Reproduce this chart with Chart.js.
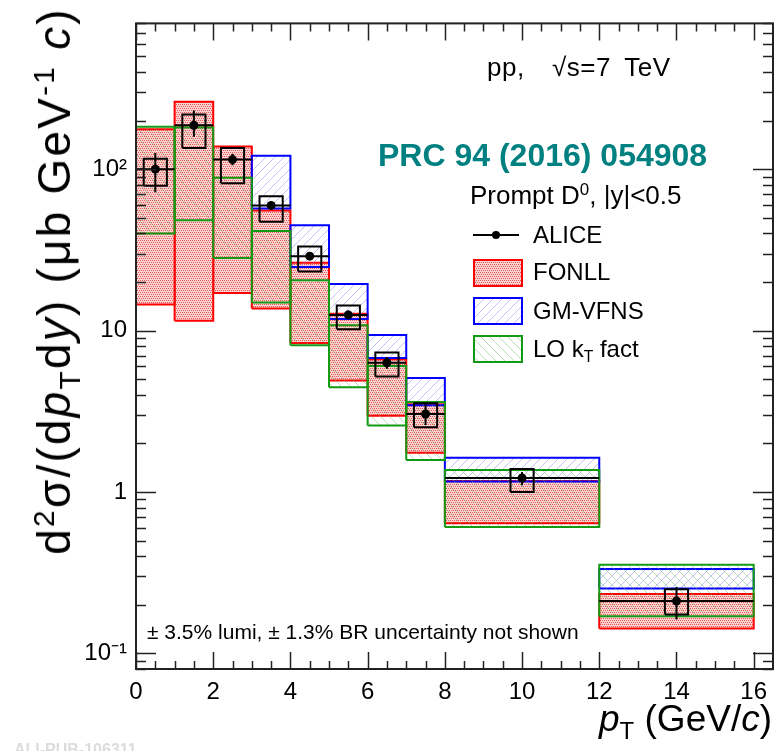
<!DOCTYPE html>
<html>
<head>
<meta charset="utf-8">
<script src="https://cdn.jsdelivr.net/npm/chart.js@4.4.1/dist/chart.umd.min.js"></script>
<style>
  body { margin: 0; background: #fff; }
  #wrap { position: relative; width: 781px; height: 751px; overflow: hidden; font-family: "Liberation Sans", Arial, sans-serif; color: #000; }
  #wrap canvas { position: absolute; left: 0; top: 0; }
  .t { position: absolute; white-space: nowrap; }
  .t sup, .t sub { font-size: 65%; line-height: 0; position: relative; vertical-align: baseline; }
  .t sup { top: -0.55em; }
  .t sub { top: 0.35em; }
</style>
</head>
<body>
<div id="wrap">
  <canvas id="chart" width="781" height="751"></canvas>
  <div class="t" style="left:487px; top:67px; font-size:26px; line-height:26px; transform:translateY(-50%); word-spacing:6px; letter-spacing:0.5px;">pp, &nbsp;√s=7 TeV</div>
  <div class="t" style="left:378px; top:155px; font-size:32px; line-height:32px; transform:translateY(-50%); font-weight:bold; color:#008080;">PRC 94 (2016) 054908</div>
  <div class="t" style="left:470px; top:195px; font-size:26px; line-height:26px; transform:translateY(-50%);">Prompt D<sup>0</sup>, |y|&lt;0.5</div>
  <div class="t" style="left:533px; top:235px; font-size:24px; line-height:24px; transform:translateY(-50%);">ALICE</div>
  <div class="t" style="left:533px; top:272px; font-size:24px; line-height:24px; transform:translateY(-50%);">FONLL</div>
  <div class="t" style="left:533px; top:311px; font-size:24px; line-height:24px; transform:translateY(-50%);">GM-VFNS</div>
  <div class="t" style="left:533px; top:349px; font-size:24px; line-height:24px; transform:translateY(-50%);">LO k<sub>T</sub> fact</div>
  <div class="t" style="left:147px; top:631px; font-size:21px; line-height:21px; transform:translateY(-50%);">± 3.5% lumi, ± 1.3% BR uncertainty not shown</div>
  <div class="t" style="right:9px; top:718px; font-size:37px; line-height:37px; transform:translateY(-50%);"><i>p</i><sub>T</sub> (GeV/<i>c</i>)</div>
  <div class="t" style="left:54px; top:281px; font-size:46px; line-height:46px; transform:translate(-50%,-50%) rotate(-90deg); letter-spacing:2.2px;">d<sup>2</sup>σ/(d<i>p</i><sub>T</sub>d<i>y</i>) (μb GeV<sup>-1</sup> <i>c</i>)</div>
  <div class="t" style="left:14px; top:742px; font-size:16px; line-height:16px; font-weight:bold; color:#dcdcdc;">ALI-PUB-106311</div>
</div>
<script>
// pT bins (GeV/c)
const binLo = [0, 1, 2, 3, 4, 5, 6, 7, 8, 12];
const binHi = [1, 2, 3, 4, 5, 6, 7, 8, 12, 16];

// ALICE prompt D0 cross section (ub GeV^-1 c)
const aliceY        = [100, 187, 114.6, 59.6, 28.9, 12.5, 6.32, 3.04, 1.22, 0.211];
const aliceStatLow  = [72, 159, 105.8, 56.5, 27.5, 11.8, 5.8, 2.6, 1.10, 0.162];
const aliceStatHigh = [126, 231, 124.6, 63, 30.5, 13.3, 6.85, 3.5, 1.33, 0.258];
const aliceSystLow  = [78.8, 135, 81.8, 47.2, 23.2, 10.2, 5.2, 2.52, 1.0, 0.174];
const aliceSystHigh = [116.2, 218, 135, 67.9, 33.2, 14.3, 7.3, 3.55, 1.39, 0.2495];

// model uncertainty bands
const fonllLow   = [14.5, 11.5, 17.1, 13.7, 8.37, 4.9, 2.97, 1.75, 0.641, 0.1426];
const fonllHigh  = [177, 262, 138, 55.4, 26.3, 12.7, 6.63, 3.5, 1.17, 0.233];
const gmvfnsLow  = [null, null, null, 57, 24.8, 11.8, 6.75, 3.44, 1.16, 0.252];
const gmvfnsHigh = [null, null, null, 121, 45, 19.4, 9.4, 5.08, 1.63, 0.333];
const lokTLow    = [40, 48.3, 28.2, 14.9, 8.1, 4.45, 2.58, 1.58, 0.607, 0.1695];
const lokTHigh   = [183, 181, 88.6, 41.4, 20.5, 10.8, 6.04, 3.61, 1.37, 0.354];

// axes
const xTickValues = [0, 2, 4, 6, 8, 10, 12, 14, 16];
const xTickLabels = ['0', '2', '4', '6', '8', '10', '12', '14', '16'];
const yTickValues = [0.1, 1, 10, 100];
const yTickLabels = ['10⁻¹', '1', '10', '10²'];

const systHalfWidth = 0.3;
const RED = '#ff0000', BLUE = '#0000ff', GREEN = '#129a12';

function makeDots() {
  const c = document.createElement('canvas');
  c.width = 4; c.height = 4;
  const g = c.getContext('2d');
  g.fillStyle = '#f9d2d2';
  g.fillRect(0, 0, 4, 4);
  g.fillStyle = '#ec5555';
  [[0, 0], [2, 0], [1, 2], [3, 2]].forEach(p => g.fillRect(p[0], p[1], 1, 1));
  return g.createPattern(c, 'repeat');
}
function makeHatch(color, forward) {
  const c = document.createElement('canvas');
  const n = 9;
  c.width = n; c.height = n;
  const g = c.getContext('2d');
  g.strokeStyle = color;
  g.lineWidth = 1;
  g.beginPath();
  if (forward) {
    g.moveTo(-1, n + 1); g.lineTo(n + 1, -1);
    g.moveTo(-1, 1); g.lineTo(1, -1);
    g.moveTo(n - 1, n + 1); g.lineTo(n + 1, n - 1);
  } else {
    g.moveTo(-1, -1); g.lineTo(n + 1, n + 1);
    g.moveTo(n - 1, -1); g.lineTo(n + 1, 1);
    g.moveTo(-1, n - 1); g.lineTo(1, n + 1);
  }
  g.stroke();
  return g.createPattern(c, 'repeat');
}

const fonllFill = makeDots();
const gmFill = makeHatch('rgba(120,120,235,0.45)', true);
const loFill = makeHatch('rgba(100,185,100,0.45)', false);

function box(x0, x1, lo, hi) {
  return [{x: x0, y: lo}, {x: x0, y: hi}, {x: x1, y: hi}, {x: x1, y: lo}, {x: x0, y: lo}];
}

const datasets = [];

// ALICE markers and error bars (drawn on top)
datasets.push({
  type: 'scatter', order: 0,
  data: aliceY.map((v, i) => ({x: (binLo[i] + binHi[i]) / 2, y: v})),
  backgroundColor: '#000', borderWidth: 0, pointRadius: 4.5
});
const hBars = [], vBars = [], systBoxes = [];
aliceY.forEach((v, i) => {
  const xc = (binLo[i] + binHi[i]) / 2;
  hBars.push({x: binLo[i], y: v}, {x: binHi[i], y: v}, {x: binHi[i], y: null});
  vBars.push({x: xc, y: aliceStatLow[i]}, {x: xc, y: aliceStatHigh[i]}, {x: xc, y: null});
  systBoxes.push(...box(xc - systHalfWidth, xc + systHalfWidth, aliceSystLow[i], aliceSystHigh[i]), {x: xc, y: null});
});
[hBars, vBars, systBoxes].forEach(d => datasets.push({
  type: 'line', order: 1, data: d, borderColor: '#000', borderWidth: 2,
  pointRadius: 0, fill: false, spanGaps: false, tension: 0
}));

// model bands
function addModel(lows, highs, color, fill, order) {
  lows.forEach((lo, i) => {
    if (lo === null) return;
    datasets.push({
      type: 'line', order: order,
      data: box(binLo[i], binHi[i], lo, highs[i]),
      borderColor: color, borderWidth: 2, backgroundColor: fill,
      fill: 'shape', pointRadius: 0, tension: 0
    });
  });
}
addModel(lokTLow, lokTHigh, GREEN, loFill, 2);
addModel(gmvfnsLow, gmvfnsHigh, BLUE, gmFill, 3);
addModel(fonllLow, fonllHigh, RED, fonllFill, 4);

// frame, inward ticks on all four sides, legend symbols
const framePlugin = {
  id: 'frame',
  afterDraw(chart) {
    const ctx = chart.ctx;
    const a = chart.chartArea;
    const xs = chart.scales.x, ys = chart.scales.y;
    ctx.save();
    ctx.strokeStyle = '#222';
    ctx.lineWidth = 1.5;
    ctx.beginPath();
    xs.ticks.forEach(t => {
      const px = Math.round(xs.getPixelForValue(t.value)) + 0.5;
      const len = t.value % 2 === 0 ? 17 : 8;
      ctx.moveTo(px, a.bottom); ctx.lineTo(px, a.bottom - len);
      ctx.moveTo(px, a.top); ctx.lineTo(px, a.top + len);
    });
    ys.ticks.forEach(t => {
      const py = Math.round(ys.getPixelForValue(t.value)) + 0.5;
      const major = Math.abs(Math.log10(t.value) - Math.round(Math.log10(t.value))) < 1e-6;
      const len = major ? 20 : 10;
      ctx.moveTo(a.left, py); ctx.lineTo(a.left + len, py);
      ctx.moveTo(a.right, py); ctx.lineTo(a.right - len, py);
    });
    ctx.stroke();
    ctx.lineWidth = 2;
    ctx.strokeRect(a.left, a.top, a.right - a.left, a.bottom - a.top);

    // legend symbols
    ctx.strokeStyle = '#000';
    ctx.beginPath();
    ctx.moveTo(473, 235); ctx.lineTo(519, 235);
    ctx.stroke();
    ctx.fillStyle = '#000';
    ctx.beginPath();
    ctx.arc(496, 235, 4, 0, Math.PI * 2);
    ctx.fill();
    [[260, fonllFill, RED], [298, gmFill, BLUE], [336, loFill, GREEN]].forEach(e => {
      ctx.fillStyle = e[1];
      ctx.fillRect(474, e[0], 48, 26);
      ctx.strokeStyle = e[2];
      ctx.strokeRect(474, e[0], 48, 26);
    });
    ctx.restore();
  }
};

Chart.defaults.font.family = '"Liberation Sans", Arial, sans-serif';
Chart.defaults.color = '#000';

new Chart(document.getElementById('chart'), {
  type: 'line',
  data: { datasets: datasets },
  options: {
    responsive: false,
    devicePixelRatio: 1,
    animation: false,
    layout: { padding: { top: 11, right: 8, left: 0, bottom: 0 } },
    plugins: { legend: { display: false }, tooltip: { enabled: false } },
    events: [],
    scales: {
      x: {
        type: 'linear', min: 0, max: 16.5,
        grid: { display: false, drawTicks: false },
        border: { display: false },
        afterBuildTicks(scale) {
          const t = [];
          for (let v = 0; v <= 16; v += 0.5) t.push({value: v});
          scale.ticks = t;
        },
        afterFit(scale) { scale.height = 82; },
        ticks: {
          autoSkip: false, maxRotation: 0, padding: 9,
          font: { size: 24 },
          callback: v => {
            const k = xTickValues.indexOf(v);
            return k >= 0 ? xTickLabels[k] : '';
          }
        }
      },
      y: {
        type: 'logarithmic', min: 0.08, max: 800,
        grid: { display: false, drawTicks: false },
        border: { display: false },
        afterBuildTicks(scale) {
          const t = [];
          for (let e = -2; e <= 2; e++) {
            for (let m = 1; m <= 9; m++) {
              const v = m * Math.pow(10, e);
              if (v >= 0.08 && v <= 800) t.push({value: v});
            }
          }
          scale.ticks = t;
        },
        afterFit(scale) { scale.width = 136; },
        ticks: {
          autoSkip: false, padding: 9,
          font: { size: 24 },
          callback: v => {
            const k = yTickValues.findIndex(tv => Math.abs(tv - v) / tv < 1e-6);
            return k >= 0 ? yTickLabels[k] : '';
          }
        }
      }
    }
  },
  plugins: [framePlugin]
});
</script>
</body>
</html>
